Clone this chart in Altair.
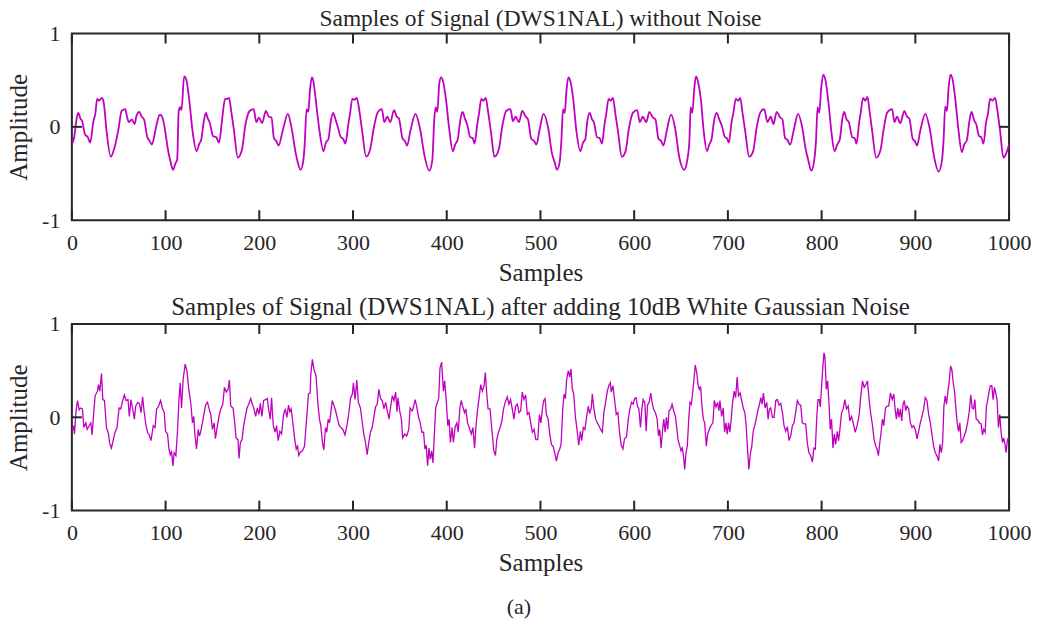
import altair as alt
import pandas as pd

# ---------------- data ----------------
x_ticks = [0, 100, 200, 300, 400, 500, 600, 700, 800, 900, 1000]
y_ticks = [-1, 0, 1]

clean_a = [(0,-0.15),(0.7,-0.17),(2.5,-0.11),(5.3,0.10),(7,0.15),(9,0.09),(11,0.06),(14,-0.08),(17,-0.11),(19.5,-0.17),(23,0.06),(25,0.14),(27,0.30),(29,0.28),(32,0.31),(34,0.26),(37,-0.04),(41.5,-0.32),(45,-0.24),(50,-0.01),(53,0.17),(57,0.19),(59,0.10),(61,0.05),(64,0.08),(67,0.03),(69,0.12),(72,0.16),(74.5,0.11),(77,0.08),(80.5,-0.11),(83,-0.15),(85.5,-0.19),(88.7,-0.06),(91,0.05),(94,0.13),(97,0.09),(99,-0.01),(103,-0.27),(105,-0.36),(108,-0.46),(110.6,-0.39),(112.4,-0.35),(114,0.17),(115.6,0.21),(117,0.18),(119.8,0.54),(122,0.51),(125,0.31),(128.7,-0.04),(133,-0.26),(136,-0.18),(138,-0.14),(140.8,0.06),(143,0.15),(145,0.09),(147,0.05),(150.7,-0.10),(154,-0.11),(157,-0.17),(160,0.05),(161,0.14),(163.5,0.30),(165.6,0.30),(167.7,0.31),(170,0.17),(173,-0.04),(177,-0.33),(181.6,-0.24),(185,0.01),(189.7,0.17),(194,0.19),(196.8,0.05),(199.6,0.10),(203,0.04),(207,0.17),(210,0.11),(213,0.10),(215.6,-0.12),(218,-0.15),(220.6,-0.20),(225,-0.04),(230.5,0.14),(234,0.01),(239,-0.29),(241,-0.38),(244,-0.46),(247,-0.36),(248.4,-0.19),(250.5,0.19),(252.3,0.16),(254,0.38),(256,0.53),(257.7,0.49),(260,0.31)]
clean_b = [(263.8,-0.01),(268.5,-0.26),(271,-0.17),(273.8,-0.13),(276.3,0.06),(278.9,0.15),(281,0.09),(283.5,0.01),(287,-0.11),(289.6,-0.13),(291.8,-0.18),(295,0.03),(296.8,0.14),(299.3,0.30),(301.4,0.29),(304,0.31),(306.8,0.17),(309.7,-0.04),(314,-0.32),(318.3,-0.24),(322.2,-0.01),(326.5,0.16),(330.8,0.19),(333.3,0.05),(336.6,0.11),(339.8,0.05),(343.7,0.18),(346.6,0.11),(349,0.09),(352.7,-0.12),(355.2,-0.15),(357.7,-0.20),(361.3,-0.04),(366.7,0.14),(371.3,-0.01),(376.7,-0.33),(381.4,-0.47),(384.6,-0.36),(386.7,0.08),(388.2,0.21),(390,0.16),(392,0.46),(393.9,0.53),(396,0.49),(399,0.31),(402.5,-0.01),(406.5,-0.26),(409,-0.19),(411.8,-0.13),(414.3,0.06),(416.8,0.16),(419.7,0.08),(422.2,0.01),(425,-0.11),(427.6,-0.12),(429.7,-0.18),(432.6,0.03),(434.4,0.14),(436.9,0.30),(439,0.28),(441.6,0.31),(444,0.17),(447,-0.04),(450.9,-0.32),(455.6,-0.24),(459,-0.01),(463.4,0.17),(468,0.19),(470.6,0.06),(473.5,0.11),(477,0.05),(480.6,0.17),(484.2,0.11),(486.7,0.08),(490.3,-0.13),(493.2,-0.15),(495.7,-0.19),(499.3,-0.02)]
clean_c = [(503.2,0.14),(508.2,-0.01),(512.4,-0.29),(515.2,-0.38),(517.7,-0.46),(520.6,-0.37),(522.3,-0.15),(524.1,0.19),(525.9,0.15),(527.7,0.38),(529.8,0.53),(531.9,0.49),(534.8,0.31),(538.3,-0.04),(542.6,-0.26),(545.4,-0.17),(547.9,-0.13),(550,0.06),(552.5,0.15),(555,0.08),(557.1,0.05),(560.3,-0.11),(563.1,-0.12),(565.6,-0.18),(568.4,0.03),(570.2,0.14),(572.7,0.30),(574.8,0.28),(577.3,0.31),(579.8,0.15),(582.6,-0.04),(586.9,-0.32),(590.8,-0.26),(594.3,-0.02),(598.6,0.15),(603.2,0.18),(606,0.05),(609.2,0.11),(612.8,0.05),(616.3,0.16),(619.9,0.10),(622.7,0.08),(625.9,-0.13),(628.7,-0.15),(631.2,-0.20),(634.8,-0.04),(639.4,0.13),(643.6,-0.01),(648.2,-0.33),(653.5,-0.46),(656.4,-0.37),(658.9,-0.15),(660.3,0.21),(662.1,0.15),(664.2,0.42),(666,0.54),(668.4,0.47),(671.3,0.28),(674.1,-0.04),(677.7,-0.26),(680.1,-0.19),(682.6,-0.13),(685.5,0.08),(687.9,0.15),(690.8,0.08),(693.6,0.01),(696.8,-0.11),(698.9,-0.12),(701,-0.17),(703.9,0.05),(705.7,0.14),(708.5,0.30),(711,0.28),(713.1,0.31),(715.6,0.15),(718.4,-0.04),(722.7,-0.32),(727,-0.26),(730.5,-0.02),(734.4,0.15),(738.7,0.19),(742.2,0.05),(745.7,0.11)]
clean_d = [(748.6,0.03),(752.1,0.16),(755.7,0.10),(758.2,0.08),(761,-0.12),(763.5,-0.14),(766.3,-0.19),(770.6,-0.02),(774.8,0.14),(779.4,-0.01),(783,-0.24),(785.8,-0.36),(789,-0.47),(791.8,-0.38),(794,-0.15),(795.7,0.21),(797.5,0.15),(799.6,0.42),(801.8,0.56),(804.3,0.49),(807.1,0.28),(810.3,-0.04),(813.8,-0.26),(816.7,-0.19),(819.5,-0.13),(822,0.08),(824.1,0.16),(826.6,0.08),(829.1,0.05),(832.6,-0.11),(835.1,-0.12),(837.2,-0.18),(840.1,0.05),(841.5,0.14),(844.3,0.31),(846.5,0.28),(848.9,0.32),(851.4,0.15),(853.9,-0.04),(858.2,-0.33),(862.8,-0.25),(866.3,-0.02),(869.9,0.15),(875.2,0.19),(877.7,0.05),(880.5,0.11),(884,0.04),(888.3,0.17),(891.1,0.11),(893.6,0.09),(897.2,-0.13),(899.3,-0.15),(901.8,-0.20),(905.3,-0.04),(910.6,0.14),(915.2,-0.01),(920.2,-0.33),(924.8,-0.48),(928.4,-0.36),(930.1,-0.15),(931.9,0.22),(933.7,0.17),(935.5,0.42),(937.6,0.56),(940.1,0.49),(942.6,0.30),(946.1,-0.04),(949.6,-0.27),(952.1,-0.19),(955,-0.14),(957.8,0.07),(959.9,0.16),(962.8,0.07),(964.9,0.03),(968.1,-0.10),(970.2,-0.11),(972.7,-0.18),(975.5,0.05),(977.3,0.13),(979.8,0.30),(982.3,0.28),(985.1,0.31),(987.6,0.17),(990.4,-0.04),(994,-0.33),(997.5,-0.27),(1000,-0.19)]

noisy_a = [(0,-0.10),(0.7,-0.13),(1.8,-0.09),(2.8,-0.18),(4.3,0.05),(6,0.18),(7.8,0.08),(9.2,0.10),(11.3,0.09),(12.8,-0.11),(14.9,-0.06),(16.3,-0.13),(18.4,-0.09),(20.2,-0.06),(21.6,-0.19),(23,0.01),(24.8,0.23),(27.3,0.28),(28.4,0.35),(29.8,0.28),(31.6,0.47),(33,0.19),(34.8,0.18),(36.9,-0.11),(39,-0.17),(40.4,-0.28),(42.2,-0.33),(44,-0.25),(46.1,-0.16),(48.2,-0.11),(50.4,0.10),(52.1,0.09),(54.3,0.18),(56,0.24),(57.8,0.18),(59.9,0.19),(61.3,0.01),(63,0.19),(64.9,0.09),(66.7,-0.02),(68.1,0.12),(70.2,0.16),(72,0.15),(73.8,0.05),(75.5,0.22),(77,0.07),(78.7,-0.06),(80.9,-0.17),(82.3,-0.18),(84.4,-0.25),(86.9,-0.09),(88.7,-0.11),(90.4,0.09),(92.2,0.11),(94.7,0.18),(96.5,0.10),(98.6,0.05),(100,-0.15),(102.1,-0.18),(103.5,-0.33),(105,-0.40),(106.4,-0.37),(107.8,-0.52),(109.2,-0.38),(111,-0.41),(112.8,-0.13),(114.2,0.18),(115.6,0.37),(117,0.10),(118.8,0.41),(120.9,0.57),(122.7,0.50),(124.8,0.30),(127,0.14),(128.7,-0.06),(130.1,0.01),(131.2,-0.18),(133,-0.34),(134.8,-0.13),(136.2,-0.20),(137.6,-0.15),(140,-0.02),(142.6,0.13),(144.7,0.16),(146.5,0.09),(148.2,0.03),(150,-0.13),(151.8,-0.06),(153.2,-0.23),(155,-0.11),(157,0.01),(158.9,0.09),(161,0.14),(162.8,0.32),(164.9,0.27),(166.7,0.30),(168.1,0.40),(169.5,0.12),(172,0.10),(173.8,-0.06),(175.2,-0.22),(177.3,-0.24),(178.4,-0.44),(179.8,-0.27),(181.6,-0.24),(183.3,-0.09),(185.1,0.01),(186.9,0.10),(188.7,0.14),(190.8,0.20),(192.6,0.14),(194.3,0.09),(196.1,0.01),(197.9,0.10),(199.6,0.03),(201.1,0.15),(202.8,0.01),(204.6,0.18),(206.7,0.19),(208.5,0.20),(209.9,0.09),(211.7,-0.02),(213.1,0.21),(214.9,-0.09),(217,-0.16),(218.4,-0.09),(220.2,-0.25),(222,-0.15),(223.8,-0.18),(225.9,0.03),(227.7,0.09),(229.4,0.00),(231.2,0.13),(232.6,0.06),(234,0.09),(235.5,-0.03),(237.6,-0.22),(239.4,-0.34),(240.8,-0.31),(242.2,-0.41),(244,-0.37),(246.1,-0.36),(248.2,-0.31),(250.7,0.01),(252.5,0.25),(254.3,0.26)]
noisy_b = [(254.8,0.44),(256.6,0.62),(258.4,0.51),(260.6,0.44),(262.4,0.16),(264.2,-0.02),(265.6,-0.09),(267.4,-0.27),(268.8,-0.35),(270.6,-0.11),(272,-0.16),(273.5,-0.02),(274.9,-0.06),(276.3,0.05),(277.8,0.18),(279.6,0.13),(281.4,0.07),(283.5,-0.02),(285.3,-0.09),(287.1,-0.11),(289.2,-0.13),(291.4,-0.19),(293.5,-0.09),(295.3,0.03),(297.5,0.21),(299.3,0.25),(300.4,0.37),(302.2,0.19),(304,0.40),(305.7,0.16),(307.9,0.10),(309.7,-0.04),(311.5,-0.18),(313.3,-0.27),(315.1,-0.40),(316.8,-0.27),(318.6,-0.16),(320.4,-0.11),(322.2,0.00),(324,0.11),(325.8,0.14),(327.6,0.30),(329.4,0.20),(331.2,0.18),(333,0.09),(334.8,0.16),(336.6,0.07),(338.4,-0.02),(340.1,0.11),(341.9,0.23),(343.7,0.18),(345.5,0.27),(346.9,0.06),(348,0.21),(349.8,0.07),(351.6,-0.02),(353,-0.22),(355.2,-0.18),(357.3,-0.20),(359.5,-0.13),(360.9,0.10),(363.1,0.07),(364.5,0.11),(366.3,0.19),(368.1,0.11),(369.9,0.00),(371.7,-0.06),(373.5,-0.16),(375.3,-0.16),(376.7,-0.34),(378.1,-0.30),(379.6,-0.52),(381,-0.33),(382.4,-0.45),(383.9,-0.36),(385.3,-0.49),(386.7,-0.20),(388.2,0.10),(390,0.16),(391.4,0.20),(392.8,0.53),(394.6,0.59),(396.4,0.28),(397.8,0.39),(399.6,0.16),(401.1,-0.09),(402.5,-0.02),(403.9,-0.27),(405.7,-0.11),(407.1,-0.27),(409,-0.10),(410.8,-0.06),(412.2,-0.16),(414,0.10),(415.4,0.18),(417.2,0.11),(419,0.05),(420.4,0.09),(422.2,-0.06),(424,-0.11),(426.2,-0.18),(427.9,-0.11),(429.7,-0.33),(431.2,-0.09),(433,0.09),(434.8,0.23),(436.2,0.35),(438,0.28),(439.8,0.34),(441.2,0.48),(442.7,0.25),(444.1,0.09),(446.2,0.09),(448.4,-0.16),(450.2,-0.36),(452,-0.41),(453.4,-0.24),(455.2,-0.16),(457,-0.11),(458.8,-0.04),(460.6,0.09),(462.4,0.16),(464.5,0.22),(466.3,0.14),(468.1,0.19),(469.9,0.09),(471.7,-0.02),(473.5,0.12),(475.3,0.14),(477.1,0.05),(478.9,0.07),(480.6,0.27),(482.4,0.19),(484.2,0.24),(486,0.03),(487.8,0.05),(489.6,-0.06),(491.4,-0.16),(493.2,-0.13),(495,-0.24),(497.1,-0.24),(498.9,0.03),(500.4,-0.06),(502.2,0.10)]
noisy_c = [(503.5,0.18),(504.9,0.20),(506.4,0.03),(508.2,-0.02),(509.9,-0.18),(511.7,-0.29),(513.5,-0.31),(515.2,-0.38),(517,-0.47),(518.8,-0.38),(520.6,-0.34),(522,-0.29),(523.8,0.09),(525.2,0.25),(526.6,0.20),(528,0.41),(529.8,0.50),(531.2,0.43),(532.6,0.52),(534,0.30),(535.5,0.25),(537.2,0.01),(539,-0.13),(540.8,-0.30),(542.6,-0.15),(544,-0.25),(545.7,-0.11),(547.5,-0.13),(549.3,0.01),(551.1,0.12),(552.5,0.04),(554.3,0.10),(555.3,0.25),(557.1,0.09),(558.9,-0.02),(560.6,-0.06),(562.4,-0.09),(564.2,-0.13),(566,-0.16),(567.7,0.05),(569.5,0.16),(571.3,0.28),(573,0.34),(574.5,0.37),(575.5,0.27),(577.3,0.34),(579.1,0.19),(580.9,0.03),(582.6,0.05),(584.4,-0.16),(586.2,-0.30),(588,-0.34),(589.7,-0.23),(591.8,-0.21),(593.6,-0.03),(595.4,0.09),(597.2,0.16),(599,0.14),(600.4,0.20),(602.1,0.21),(603.5,0.12),(605,0.09),(606.7,-0.11),(608.2,0.09),(609.6,0.19),(611.3,0.16),(612.8,-0.15),(614.2,0.13),(616,0.16),(617.7,0.26),(619.1,0.16),(620.9,0.08),(622.7,0.05),(624.5,-0.02),(625.9,-0.20),(627.3,-0.13),(628.7,-0.33),(630.1,-0.16),(631.6,-0.02),(633,-0.16),(634.4,0.00),(635.8,-0.13),(637.2,0.07),(639,0.09),(640.4,0.14),(642.2,0.07),(644,0.01),(645.4,-0.11),(646.8,-0.24),(648.2,-0.29),(650,-0.36),(651.4,-0.33),(652.8,-0.43),(653.9,-0.56),(655.3,-0.38),(656.7,-0.31),(658.2,-0.02),(659.6,0.16),(661,0.14),(662.4,0.26),(663.8,0.41),(665.2,0.56),(666.7,0.48),(668.1,0.35),(669.5,0.30),(670.9,0.33),(672.3,0.12),(673.8,-0.02),(675.2,-0.06),(677,-0.31),(678.4,-0.18),(680.1,-0.13),(681.9,-0.09),(684,-0.06),(685.5,0.18),(687.2,0.11),(689,0.16),(690.4,0.07),(691.5,0.18),(693.3,0.01),(695,0.10),(696.5,-0.16),(697.9,-0.06),(699.3,-0.18),(700.7,-0.06),(702.1,-0.16),(703.5,-0.02),(705,0.16),(706.7,0.28),(708.2,0.21),(709.9,0.43),(711.3,0.23),(713.1,0.26),(714.5,0.19),(716.3,0.10),(718.1,0.05),(719.5,-0.09),(720.9,-0.33),(722.3,-0.56),(724.1,-0.38),(725.5,-0.31),(727,-0.15),(728.7,-0.09),(730.1,-0.02),(731.9,0.07),(733.7,0.14),(735.1,0.21),(736.5,0.14),(737.9,0.26),(739.7,0.10),(741.5,0.16),(742.9,-0.02),(744.3,0.09),(745.7,0.10)]
noisy_d = [(747.5,0.00),(749.3,0.00),(751.1,0.18),(752.8,0.19),(754.6,0.13),(756.4,0.15),(758.2,0.05),(759.9,-0.09),(761.7,-0.15),(763.5,-0.10),(765.2,-0.25),(767,-0.20),(768.8,-0.09),(770.6,-0.06),(772.3,0.05),(774.1,0.18),(775.9,0.14),(777.7,0.13),(779.4,-0.06),(781.2,-0.07),(783,-0.07),(784.8,-0.28),(786.5,-0.38),(788.3,-0.41),(790.1,-0.48),(791.8,-0.33),(793.3,-0.34),(794.7,-0.02),(796.1,0.19),(797.5,0.19),(798.6,0.11),(800,0.34),(801.4,0.55),(802.5,0.69),(803.5,0.65),(805,0.30),(806.4,0.39),(807.8,0.16),(809.2,-0.13),(810.6,-0.02),(812.1,-0.33),(813.5,-0.18),(814.9,-0.29),(816.7,-0.15),(818.1,-0.25),(819.5,-0.13),(821.3,0.05),(823,0.09),(824.8,0.19),(826.6,0.09),(828.4,0.12),(830.1,-0.04),(831.9,0.01),(833.7,-0.06),(835.8,-0.16),(837.9,-0.09),(840.1,0.03),(841.8,0.23),(843.6,0.39),(845.4,0.32),(847.2,0.35),(848.9,0.39),(850.7,0.19),(852.5,0.03),(854.3,-0.09),(856,-0.24),(857.8,-0.31),(859.2,-0.34),(860.6,-0.41),(862.1,-0.27),(863.5,-0.16),(864.9,-0.02),(866.3,-0.09),(868.1,0.10),(869.9,0.12),(871.6,0.12),(873.4,0.26),(875.2,0.19),(877,0.25),(878.4,0.09),(879.8,-0.02),(881.2,0.10),(882.6,0.00),(884,0.09),(885.5,-0.04),(886.9,0.14),(888.3,0.18),(889.7,0.07),(891.1,0.12),(892.9,0.09),(894.7,-0.06),(896.5,-0.11),(898.2,-0.09),(900,-0.13),(901.8,-0.23),(903.5,-0.15),(905.3,-0.06),(907.1,0.01),(908.9,0.09),(910.6,0.21),(912.4,0.18),(914.2,0.03),(916,-0.06),(917.7,-0.18),(919.5,-0.31),(921.3,-0.38),(923,-0.41),(924.8,-0.47),(926.2,-0.29),(927.7,-0.38),(929.1,-0.27),(930.5,0.12),(931.9,0.23),(933.3,0.14),(934.8,0.28),(936.2,0.39),(937.6,0.55),(939,0.51),(940.4,0.37),(941.8,0.28),(943.3,0.09),(944.7,-0.06),(946.1,-0.15),(947.5,-0.06),(948.9,-0.27),(950.4,-0.25),(952.1,-0.20),(953.9,-0.15),(955.7,-0.06),(957.4,0.05),(959.2,0.24),(960.6,0.10),(962.1,0.09),(963.5,0.19),(964.9,-0.02),(966.7,-0.03),(968.4,-0.06),(970.2,-0.07),(971.6,-0.19),(973,-0.13),(974.5,-0.16),(975.9,0.12),(977.3,0.19),(978.7,0.28),(980.1,0.34),(981.6,0.34),(983,0.19),(984.4,0.32),(985.8,0.26),(987.2,0.19),(988.7,-0.11),(990.1,0.03),(991.5,-0.16),(992.9,-0.27),(994.3,-0.22),(995.7,-0.29),(996.8,-0.38),(998.2,-0.25),(999.6,-0.21)]

title_top = "Samples of Signal (DWS1NAL) without Noise"
title_bottom = "Samples of Signal (DWS1NAL) after adding 10dB White Gaussian Noise"
caption = "(a)"

# ---------------- styling ----------------
FONT = "Liberation Serif"
DARK = "#262626"
MAG = "#BF00BF"
W, H = 939, 187
TICK = 10

df_clean = pd.DataFrame(clean_a + clean_b + clean_c + clean_d, columns=["sample", "amp"])
df_noisy = pd.DataFrame(noisy_a + noisy_b + noisy_c + noisy_d, columns=["sample", "amp"])
df_xt = pd.DataFrame({"sample": x_ticks})
df_yt = pd.DataFrame({"amp": [0]})

XS = alt.Scale(domain=[0, 1000], nice=False, zero=False)
YS = alt.Scale(domain=[-1, 1], nice=False)
XA = alt.Axis(values=x_ticks, title="Samples", labelFlush=False,
              labelExpr="'' + datum.value", labelPadding=12, titlePadding=7)
YA = alt.Axis(values=y_ticks, title="Amplitude", labelExpr="'' + datum.value",
              labelPadding=12, titlePadding=10)


def panel(df, title_text, title_size, title_offset, stroke_w, interp):
    X = alt.X("sample:Q", scale=XS, axis=XA)
    Y = alt.Y("amp:Q", scale=YS, axis=YA)
    line = alt.Chart(df).mark_line(color=MAG, strokeWidth=stroke_w,
                                   interpolate=interp, clip=True).encode(x=X, y=Y)
    top_t = alt.Chart(df_xt).mark_rule(color=DARK, strokeWidth=2).encode(
        x=X, y=alt.value(0), y2=alt.value(TICK))
    bot_t = alt.Chart(df_xt).mark_rule(color=DARK, strokeWidth=2).encode(
        x=X, y=alt.value(H - TICK), y2=alt.value(H))
    left_t = alt.Chart(df_yt).mark_rule(color=DARK, strokeWidth=2).encode(
        y=Y, x=alt.value(0), x2=alt.value(TICK))
    right_t = alt.Chart(df_yt).mark_rule(color=DARK, strokeWidth=2).encode(
        y=Y, x=alt.value(W - TICK), x2=alt.value(W))
    return alt.layer(line, top_t, bot_t, left_t, right_t).properties(
        width=W, height=H,
        title=alt.TitleParams(text=title_text, fontSize=title_size, offset=title_offset,
                              anchor="middle", frame="group"),
    )


top = panel(df_clean, title_top, 23.5, -8, 1.8, "monotone")
bottom = panel(df_noisy, title_bottom, 25, -7, 1.3, "linear")

chart = alt.vconcat(top, bottom, spacing=8).properties(
    title=alt.TitleParams(text=caption, orient="bottom", anchor="middle", fontSize=22,
                          offset=21),
    padding={"left": 5, "top": 5, "right": 5, "bottom": 5},
    background="white",
).configure_view(stroke=DARK, strokeWidth=2).configure_axis(
    labelFont=FONT, labelFontSize=22, labelColor=DARK,
    titleFont=FONT, titleFontSize=25, titleColor=DARK, titleFontWeight="normal",
    grid=False, domain=False, ticks=False,
).configure_title(font=FONT, fontWeight="normal", color=DARK)

chart.save("out.html", embed_options={"renderer": "svg", "actions": False})
